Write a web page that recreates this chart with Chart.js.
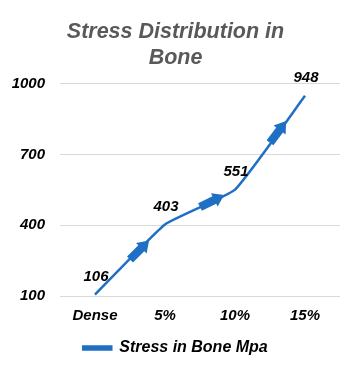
<!DOCTYPE html>
<html><head><meta charset="utf-8">
<script src="https://cdn.jsdelivr.net/npm/chart.js@4"></script>
<style>html,body{margin:0;padding:0;background:#fff}#w{width:351px;height:375px}</style>
</head><body><div id="w"><canvas id="c" width="351" height="375"></canvas></div>
<script>
const categories = ["Dense", "5%", "10%", "15%"];
const stressValues = [106, 403, 551, 948];
const seriesName = "Stress in Bone Mpa";
const yTicks = [100, 400, 700, 1000];
const titleLines = ["Stress Distribution in", "Bone"];

const FONT = "'Liberation Sans', Arial, sans-serif";
const BLUE = "#1f6fc5";

const extras = {
  id: "extras",
  afterDatasetsDraw(chart) {
    const ctx = chart.ctx;
    const pts = chart.getDatasetMeta(0).data;
    ctx.save();
    for (let i = 0; i < pts.length - 1; i++) {
      const a = pts[i], b = pts[i + 1];
      const dx = b.x - a.x, dy = b.y - a.y;
      const len = Math.hypot(dx, dy);
      const ux = dx / len, uy = dy / len;
      const sx = a.x + dx * 0.5, sy = a.y + dy * 0.5;
      const tx = sx + ux * 27, ty = sy + uy * 27;
      const hx = tx - ux * 11, hy = ty - uy * 11;
      const nx = -uy, ny = ux;
      const sw = 4.2, hw = 7.5;
      ctx.fillStyle = BLUE;
      ctx.beginPath();
      ctx.moveTo(sx + nx * sw, sy + ny * sw);
      ctx.lineTo(hx + nx * sw, hy + ny * sw);
      ctx.lineTo(hx + nx * hw, hy + ny * hw);
      ctx.lineTo(tx, ty);
      ctx.lineTo(hx - nx * hw, hy - ny * hw);
      ctx.lineTo(hx - nx * sw, hy - ny * sw);
      ctx.lineTo(sx - nx * sw, sy - ny * sw);
      ctx.closePath();
      ctx.fill();
    }
    ctx.fillStyle = "#000";
    ctx.font = "italic bold 15px " + FONT;
    ctx.textAlign = "center";
    ctx.textBaseline = "middle";
    pts.forEach((p, i) => {
      ctx.fillText(String(stressValues[i]), p.x + 1, p.y - 18);
    });
    ctx.restore();
  }
};

new Chart(document.getElementById("c"), {
  type: "line",
  data: {
    labels: categories,
    datasets: [{
      label: seriesName,
      data: stressValues,
      borderColor: BLUE,
      backgroundColor: BLUE,
      borderWidth: 2.5,
      pointRadius: 0,
      tension: 0.12,
      fill: false
    }]
  },
  options: {
    responsive: false,
    animation: false,
    devicePixelRatio: 1,
    layout: { padding: { left: 11, right: 11, top: 6, bottom: 9 } },
    scales: {
      x: {
        offset: true,
        grid: { display: false },
        border: { display: false },
        ticks: { color: "#000", font: { family: FONT, size: 15, style: "italic", weight: "bold" }, padding: 3 }
      },
      y: {
        min: 100, max: 1000,
        afterBuildTicks(s) { s.ticks = yTicks.map(v => ({ value: v })); },
        afterFit(s) { s.width = 49; },
        grid: { color: "#d9d9d9", lineWidth: 1, drawTicks: false },
        border: { display: false },
        ticks: { color: "#000", font: { family: FONT, size: 15, style: "italic", weight: "bold" }, padding: 15,
                 callback: v => String(v) }
      }
    },
    plugins: {
      title: {
        display: true,
        text: titleLines,
        color: "#595959",
        font: { family: FONT, size: 21.5, style: "italic", weight: "bold", lineHeight: 1.2 },
        padding: { top: 13, bottom: 13 }
      },
      legend: {
        position: "bottom",
        labels: {
          color: "#000",
          font: { family: FONT, size: 16, style: "italic", weight: "bold" },
          boxWidth: 28, boxHeight: 3, padding: 12
        }
      },
      tooltip: { enabled: false }
    }
  },
  plugins: [extras]
});
</script></body></html>
